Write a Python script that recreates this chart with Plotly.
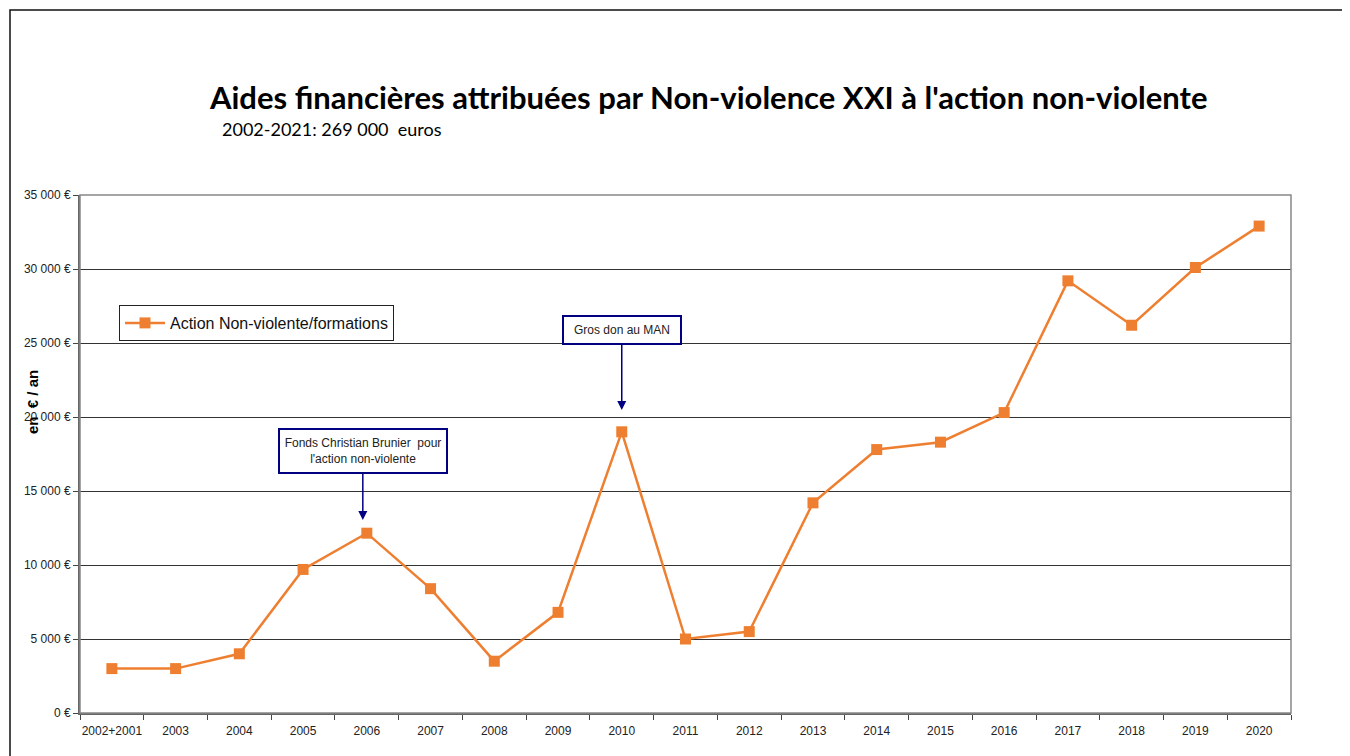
import plotly.graph_objects as go

categories = ["2002+2001", "2003", "2004", "2005", "2006", "2007", "2008", "2009", "2010",
              "2011", "2012", "2013", "2014", "2015", "2016", "2017", "2018", "2019", "2020"]
values = [3000, 3000, 4000, 9700, 12150, 8400, 3500, 6800, 19000,
          5000, 5500, 14200, 17800, 18300, 20300, 29200, 26200, 30100, 32900]
y_ticks = [0, 5000, 10000, 15000, 20000, 25000, 30000, 35000]
y_tick_labels = ["0 €", "5 000 €", "10 000 €", "15 000 €", "20 000 €", "25 000 €", "30 000 €", "35 000 €"]

OFF = 8  # page body margin
W, H = 1350 - OFF, 756 - OFF
L = 80 - OFF
R = W - (1291 - OFF)
T = 195 - OFF
B = H - (713 - OFF)
pw, ph = W - L - R, H - T - B

def px_x(x):
    return (x - OFF - L) / pw

def px_y(y):
    return (H - B - (y - OFF)) / ph

def val_at(y):
    return (713 - y) / 518 * 35000

NARROW = "Liberation Sans Narrow, Arial Narrow, Liberation Sans, Arial"
ORANGE = "#EF7F30"
NAVY = "#000080"

fig = go.Figure()
fig.add_trace(go.Scatter(
    x=categories, y=values, mode="lines+markers",
    name="Action Non-violente/formations",
    line=dict(color=ORANGE, width=2.5),
    marker=dict(symbol="square", size=11, color=ORANGE),
))

fig.update_layout(
    width=W, height=H,
    margin=dict(l=L, r=R, t=T, b=B, autoexpand=False),
    paper_bgcolor="white", plot_bgcolor="white",
    font=dict(family=NARROW, size=12, color="#222"),
    showlegend=True,
    legend=dict(
        x=px_x(119), y=px_y(305), xanchor="left", yanchor="top",
        bgcolor="white", bordercolor="#222", borderwidth=1, itemwidth=40,
        font=dict(family=NARROW, size=16, color="#111"),
    ),
    xaxis=dict(
        type="category", range=[-0.5, len(categories) - 0.5],
        showgrid=False, showline=True, linecolor="#666", linewidth=2,
        ticks="outside", tickson="boundaries", ticklen=5, tickcolor="#444",
        tickangle=0, automargin=False, ticklabelstandoff=6,
        tickfont=dict(family=NARROW, size=12, color="#222"), mirror=False,
    ),
    yaxis=dict(
        range=[0, 35000], tickvals=y_ticks, ticktext=y_tick_labels,
        showgrid=True, gridcolor="#333", gridwidth=1,
        showline=True, linecolor="#666", linewidth=2,
        ticks="outside", ticklen=5, tickcolor="#444", automargin=False,
        tickfont=dict(family=NARROW, size=12, color="#222"), zeroline=False,
    ),
)

shapes = [
    dict(type="rect", xref="paper", yref="paper", x0=0, y0=0, x1=1, y1=1,
         line=dict(color="#888", width=1.5)),
    dict(type="rect", xref="paper", yref="paper", x0=px_x(10), y0=px_y(790), x1=px_x(1390), y1=px_y(10),
         line=dict(color="#111", width=1.5)),
]
fig.update_layout(shapes=shapes)

annotations = [
    dict(text="<b>Aides financières attribuées par Non-violence XXI à l'action non-violente</b>",
         xref="paper", yref="paper", x=px_x(708), y=px_y(97), xanchor="center", yanchor="middle",
         showarrow=False, font=dict(family="Lato, Open Sans, sans-serif", size=31, color="#000")),
    dict(text="2002-2021: 269 000  euros",
         xref="paper", yref="paper", x=px_x(220), y=px_y(129), xanchor="left", yanchor="middle",
         showarrow=False, font=dict(family="Lato, Open Sans, sans-serif", size=18, color="#000")),
    dict(text="<b>en  € / an</b>", textangle=-90,
         xref="paper", yref="paper", x=px_x(32), y=px_y(402), xanchor="center", yanchor="middle",
         showarrow=False, font=dict(family="Liberation Sans, Arial", size=15, color="#000")),
    dict(text="Fonds Christian Brunier  pour<br>l'action non-violente",
         x=4, y=val_at(520), xref="x", yref="y", xshift=-4,
         ax=0, ay=-69, showarrow=True, arrowhead=2, arrowsize=1.2, arrowwidth=1.5, arrowcolor=NAVY,
         bgcolor="white", bordercolor=NAVY, borderwidth=2, borderpad=3,
         width=160, height=36,
         font=dict(family=NARROW, size=12, color="#222")),
    dict(text="Gros don au MAN",
         x=8, y=val_at(410), xref="x", yref="y",
         ax=0, ay=-80, showarrow=True, arrowhead=2, arrowsize=1.2, arrowwidth=1.5, arrowcolor=NAVY,
         bgcolor="white", bordercolor=NAVY, borderwidth=2, borderpad=3,
         width=110, height=20,
         font=dict(family=NARROW, size=12, color="#222")),
]
fig.update_layout(annotations=annotations)

fig.write_html("out.html")
